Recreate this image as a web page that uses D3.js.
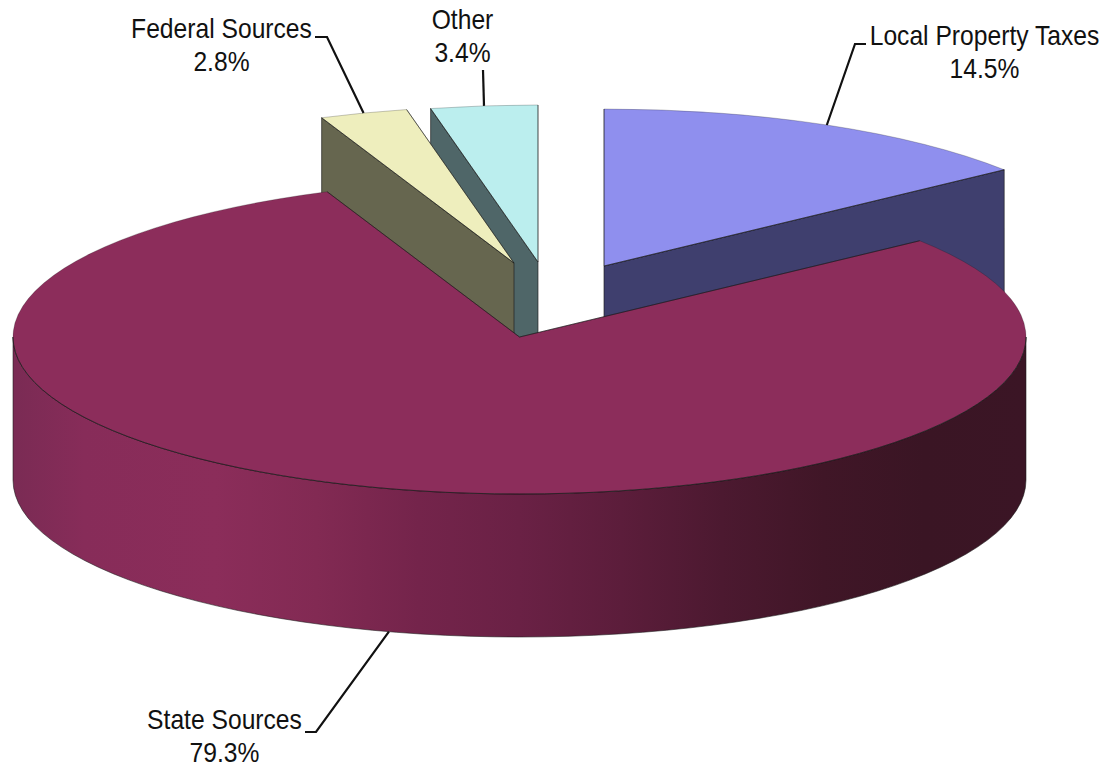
<!DOCTYPE html>
<html>
<head>
<meta charset="utf-8">
<title>Revenue Sources</title>
<script src="https://cdn.jsdelivr.net/npm/d3@7"></script>
<style>
  html, body { margin: 0; background: #fff; }
  svg { display: block; }
  text { font-family: "Liberation Sans", Arial, sans-serif; fill: #111; }
</style>
</head>
<body>
<svg id="chart" width="1105" height="768"></svg>
<script>
// Revenue shares, in pie order starting from twelve o'clock
const sources = ["Local Property Taxes", "State Sources", "Federal Sources", "Other"];
const shares = [14.5, 79.3, 2.8, 3.4];

// Slice colours: top face and cut face
const topColors = ["#8f8fee", "#8c2d5b", "#eeeebd", "#bbeeee"];
const wallColors = ["#3f3f6e", "#8c2d5b", "#66664f", "#4f6668"];

// How far each slice is pulled away from the pie centre
const pullX = [84.5, 0, -5.5, 18.5];
const pullY = [-71, 0, -74, -75];

// Label placement: line centre, first baseline, leader elbow and end
const labelX = [984.5, 224.5, 221.5, 462.5];
const labelY = [45, 728.5, 38, 29];
const elbowX = [855, 316, 327, 483];
const elbowY = [44, 732, 37, 70];
const tailX = [866, 305, 315, 483];
const tailY = [44, 732, 37, 70];

// Shading along the outer wall of the large slice
const wallStops = [
  [0, "#7a2b54"], [0.07, "#872c59"], [0.2, "#8b2d5a"], [0.3, "#822a53"],
  [0.4, "#74244b"], [0.5, "#6a2145"], [0.6, "#5c1d3b"], [0.7, "#4c1930"],
  [0.8, "#401627"], [0.9, "#3a1524"], [1, "#3b1525"]
];

const cx = 519.5, cy = 337, radius = 506.5, tilt = 0.31, depth = 143;
const fontSize = 27, squeeze = 0.913, lineGap = 33.5;

const svg = d3.select("#chart");

const gradient = svg.append("defs").append("linearGradient").attr("id", "outerWall");
gradient.selectAll("stop").data(wallStops).join("stop")
  .attr("offset", d => d[0])
  .attr("stop-color", d => d[1]);

const pie = d3.pie().sort(null).value(d => d);
const slices = pie(shares).map((d, i) => ({
  ...d,
  name: sources[i],
  top: topColors[i],
  wall: wallColors[i],
  dx: pullX[i],
  dy: pullY[i],
  index: i
}));

const arc = d3.arc().innerRadius(0).outerRadius(radius);
const drop = depth / tilt;           // wall height in the unsquashed plane

// Cut face running from the apex out to the rim at one angle
function cutFace(angle) {
  const x = radius * Math.sin(angle), y = -radius * Math.cos(angle);
  const p = d3.path();
  p.moveTo(0, 0);
  p.lineTo(x, y);
  p.lineTo(x, y + drop);
  p.lineTo(0, drop);
  p.closePath();
  return p.toString();
}

// Angular span of a slice's rim that faces the viewer
function frontSpan(a0, a1) {
  const from = Math.max(a0, Math.PI / 2), to = Math.min(a1, 3 * Math.PI / 2);
  return to > from ? [from - Math.PI / 2, to - Math.PI / 2] : null;
}

// Curved outer wall
function rimFace(span) {
  const p = d3.path();
  p.arc(0, 0, radius, span[0], span[1], false);
  p.arc(0, drop, radius, span[1], span[0], true);
  p.closePath();
  return p.toString();
}

// Crisp line along the front rim of the top face
function rimLine(span) {
  const p = d3.path();
  p.arc(0, 0, radius, span[0], span[1], false);
  return p.toString();
}

// Straight edges of a top face, from rim to apex to rim
function cutLines(d) {
  const p = d3.path();
  p.moveTo(radius * Math.sin(d.startAngle), -radius * Math.cos(d.startAngle));
  p.lineTo(0, 0);
  p.lineTo(radius * Math.sin(d.endAngle), -radius * Math.cos(d.endAngle));
  return p.toString();
}

// Pulled-out slices go first, the large slice sits over their walls
const drawOrder = [0, 3, 2, 1];

const groups = svg.selectAll("g.slice")
  .data(drawOrder.map(i => slices[i]))
  .join("g")
  .attr("class", "slice")
  .attr("transform", d => `translate(${cx + d.dx},${cy + d.dy}) scale(1,${tilt})`);

const edge = (sel, opacity = 1) => sel
  .attr("stroke", "#1a1a1a")
  .attr("stroke-width", 0.8)
  .attr("stroke-opacity", opacity)
  .attr("stroke-linejoin", "round")
  .attr("vector-effect", "non-scaling-stroke");

groups.each(function (d) {
  const g = d3.select(this);
  // a cut face shows only when it turns towards the viewer
  if (Math.sin(d.startAngle) < -1e-6) {
    g.append("path").attr("d", cutFace(d.startAngle)).attr("fill", d.wall).call(edge, 0.8);
  }
  if (Math.sin(d.endAngle) > 1e-6) {
    g.append("path").attr("d", cutFace(d.endAngle)).attr("fill", d.wall).call(edge, 0.8);
  }
  const span = frontSpan(d.startAngle, d.endAngle);
  if (span) {
    g.append("path").attr("d", rimFace(span)).attr("fill", "url(#outerWall)").call(edge, 0.7);
  }
  // back rim stays faint, the front rim and straight edges read darker
  g.append("path").attr("d", arc(d)).attr("fill", d.top).call(edge, 0.3);
  g.append("path").attr("d", cutLines(d)).attr("fill", "none").call(edge, 0.8);
  if (span) {
    g.append("path").attr("d", rimLine(span)).attr("fill", "none").call(edge, 0.9);
  }
});

// Leader lines run from the slice's mid-angle on the rim to the label
const leader = d3.line();
svg.selectAll("path.leader")
  .data(slices)
  .join("path")
  .attr("class", "leader")
  .attr("fill", "none")
  .attr("stroke", "#111")
  .attr("stroke-width", 2.2)
  .attr("d", d => {
    const mid = (d.startAngle + d.endAngle) / 2;
    const i = d.index;
    const rx = cx + d.dx + radius * Math.sin(mid);
    const ry = cy + d.dy - radius * tilt * Math.cos(mid) + (Math.cos(mid) < 0 ? depth : 0);
    return leader([[rx, ry], [elbowX[i], elbowY[i]], [tailX[i], tailY[i]]]);
  });

// Two-line labels: name, then share
const labels = svg.selectAll("g.label")
  .data(slices)
  .join("g")
  .attr("class", "label")
  .attr("transform", d => `translate(${labelX[d.index]},${labelY[d.index]}) scale(${squeeze},1)`);

labels.append("text")
  .attr("text-anchor", "middle")
  .attr("font-size", fontSize)
  .text(d => d.name);

labels.append("text")
  .attr("text-anchor", "middle")
  .attr("font-size", fontSize)
  .attr("y", lineGap)
  .text(d => d3.format(".1f")(d.data) + "%");
</script>
</body>
</html>
